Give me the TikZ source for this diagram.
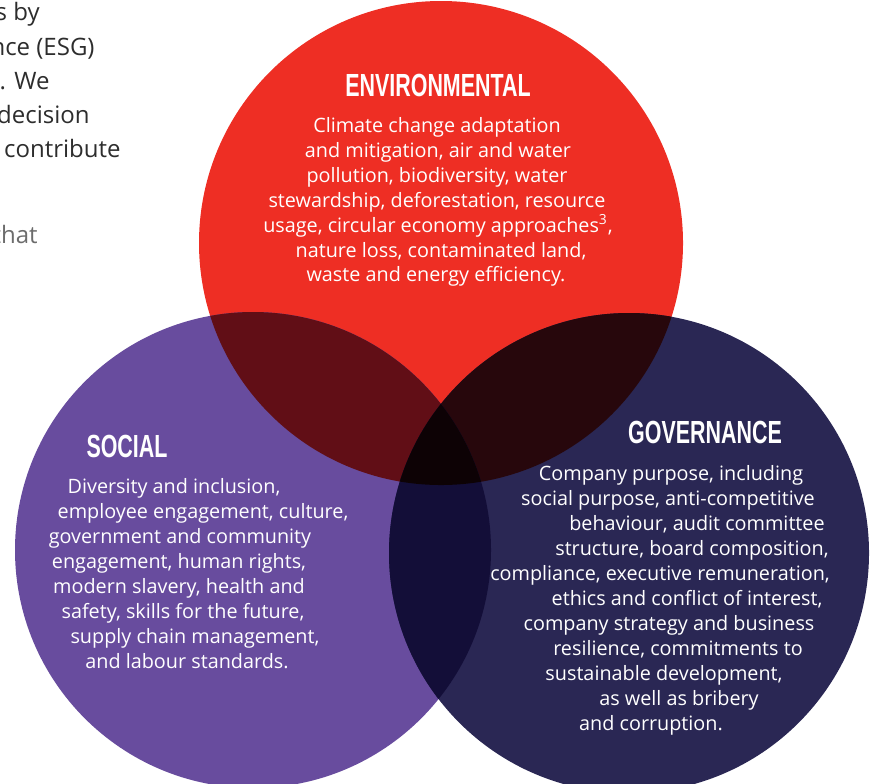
\documentclass[tikz,border=0pt]{standalone}
\usepackage{fontspec}
\setmainfont{Open Sans}
\newfontfamily\headfont[FakeStretch=0.67]{Liberation Sans}
\definecolor{envred}{RGB}{238,46,36}
\definecolor{socpurple}{RGB}{104,76,158}
\definecolor{govnavy}{RGB}{42,39,84}
\definecolor{envsoc}{RGB}{97,14,22}
\definecolor{envgov}{RGB}{39,7,12}
\definecolor{socgov}{RGB}{19,14,56}
\definecolor{allthree}{RGB}{13,2,5}
\definecolor{introgray}{RGB}{45,45,45}
\tikzset{
  heading/.style={font=\headfont\bfseries\fontsize{16}{16}\selectfont, text=white, inner sep=0pt, anchor=base},
  bodyline/.style={font=\fontsize{9.9}{12.5}\selectfont, text=white, inner sep=0pt, anchor=base},
  introline/.style={font=\fontsize{12}{17}\selectfont, text=introgray, inner sep=0pt, anchor=base east}
}
\begin{document}
\begin{tikzpicture}[x=0.5pt,y=-0.5pt]
    \useasboundingbox (0,0) rectangle (870,783);

    % circle centres
    \coordinate (env) at (441,243);
    \coordinate (soc) at (253,550);
    \coordinate (gov) at (629,553);

    % the three circles
    \fill[envred] (env) circle[radius=121pt];
    \fill[socpurple] (soc) circle[radius=119pt];
    \fill[govnavy] (gov) circle[radius=120pt];

    % overlaps
    \begin{scope}
        \clip (env) circle[radius=121pt];
        \fill[envsoc] (soc) circle[radius=119pt];
        \fill[envgov] (gov) circle[radius=120pt];
    \end{scope}
    \begin{scope}
        \clip (soc) circle[radius=119pt];
        \fill[socgov] (gov) circle[radius=120pt];
        \clip (gov) circle[radius=120pt];
        \fill[allthree] (env) circle[radius=121pt];
    \end{scope}

    % intro text, cut at the left edge
    \node[introline] (i1) at (40,20) {s by};
    \node[introline] (i2) at (95,55) {nce (ESG)};
    \node[introline] (i3) at (50,89) {. We};
    \node[introline] (i4) at (90,123) {decision};
    \node[introline] (i5) at (121,157) {contribute};
    \node[introline, text=introgray!70] (i6) at (38,243) {that};

    % environmental
    \node[heading] (envhead) at (438,96) {ENVIRONMENTAL};
    \foreach \x/\y/\t [count=\i] in {
        437/132/{Climate change adaptation},
        438/157/{and mitigation, air and water},
        437/182/{pollution, biodiversity, water},
        437/207/{stewardship, deforestation, resource},
        438/232/{usage, circular economy approaches\textsuperscript{3},},
        441/257/{nature loss, contaminated land,},
        436/281/{waste and energy efficiency.}}
        \node[bodyline] (e\i) at (\x,\y) {\t};

    % social
    \node[heading] (sochead) at (127,457) {SOCIAL};
    \foreach \x/\y/\t [count=\i] in {
        174/493/{Diversity and inclusion,},
        203/518/{employee engagement, culture,},
        180/543/{government and community},
        179/568/{engagement, human rights,},
        179/593/{modern slavery, health and},
        183/618/{safety, skills for the future,},
        195/643/{supply chain management,},
        187/668/{and labour standards.}}
        \node[bodyline] (s\i) at (\x,\y) {\t};

    % governance
    \node[heading] (govhead) at (705,443) {GOVERNANCE};
    \foreach \x/\y/\t [count=\i] in {
        671/480/{Company purpose, including},
        668/505/{social purpose, anti-competitive},
        697/530/{behaviour, audit committee},
        692/555/{structure, board composition,},
        660/580/{compliance, executive remuneration,},
        687/605/{ethics and conflict of interest,},
        669/630/{company strategy and business},
        678/655/{resilience, commitments to},
        664/680/{sustainable development,},
        679/705/{as well as bribery},
        651/730/{and corruption.}}
        \node[bodyline] (g\i) at (\x,\y) {\t};

\end{tikzpicture}
\end{document}
